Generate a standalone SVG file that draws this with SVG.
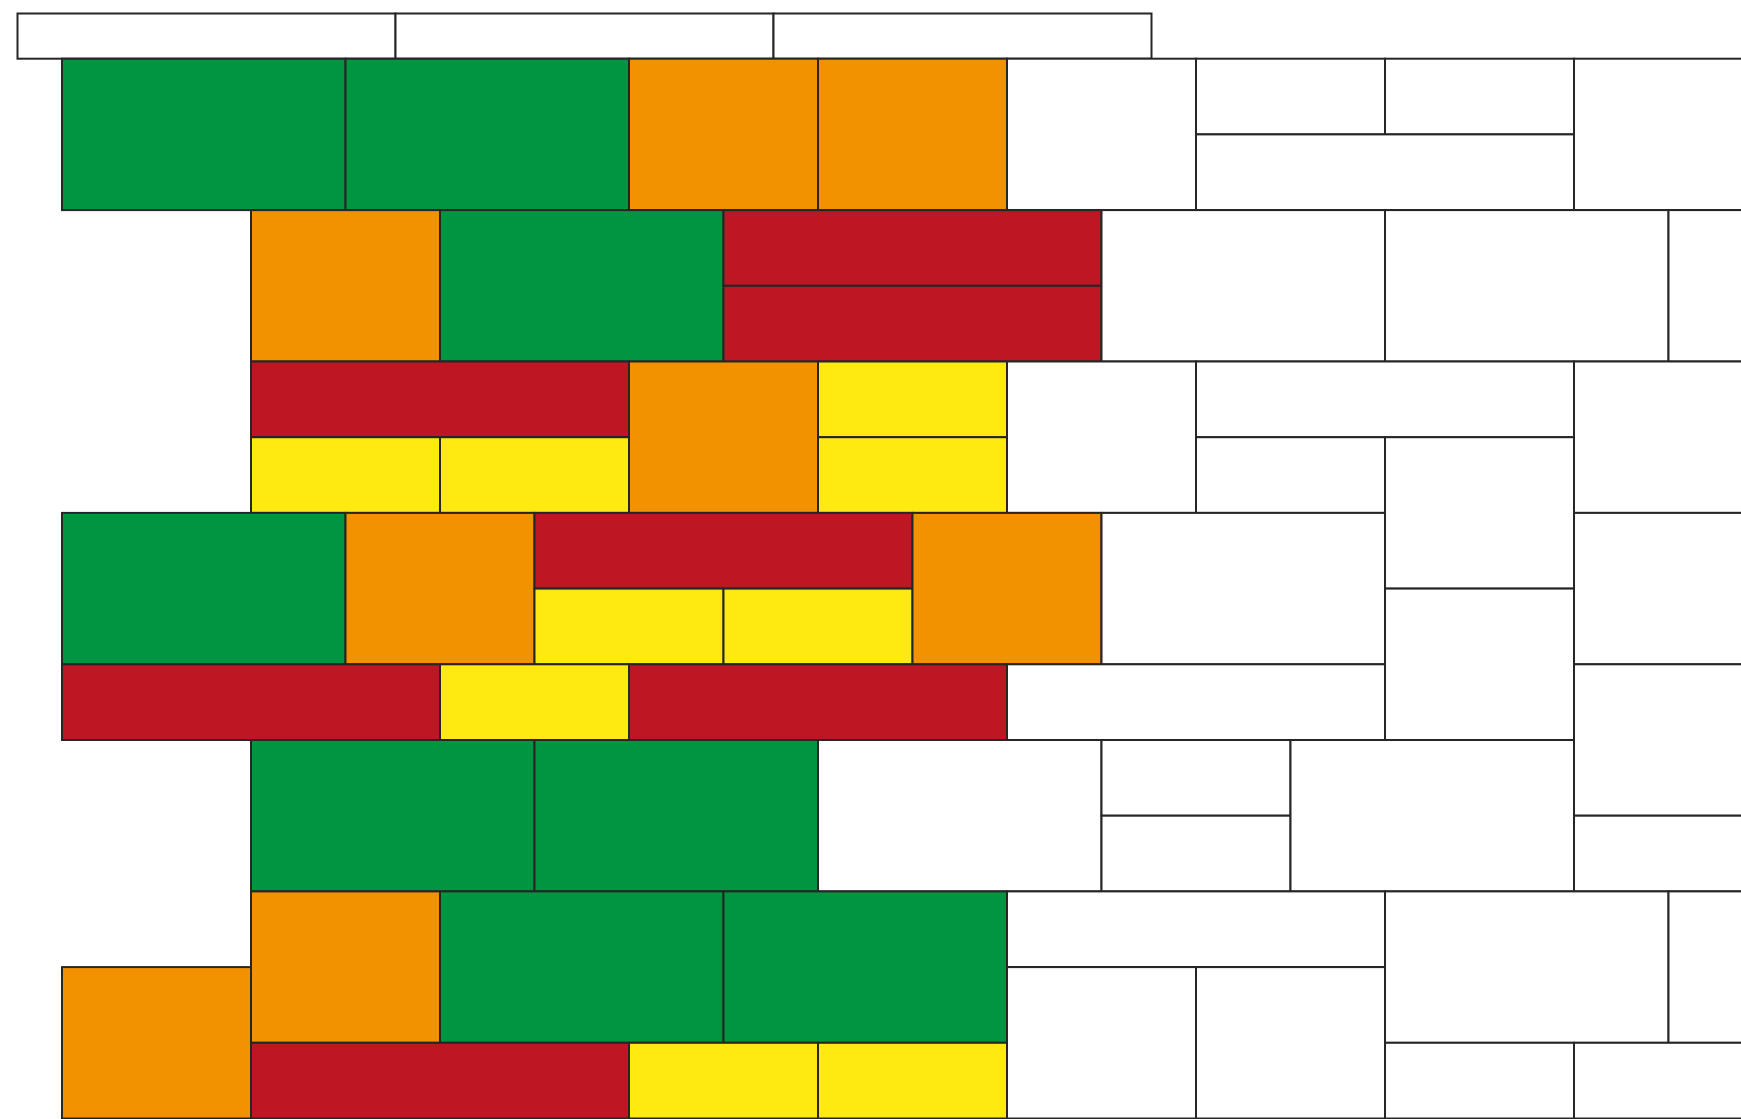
<svg xmlns="http://www.w3.org/2000/svg" width="1741" height="1119" viewBox="0 0 1741 1119">
<style>
rect{stroke:#262626;stroke-width:2}
.g{fill:#009540}
.o{fill:#F29200}
.r{fill:#BE1622}
.y{fill:#FEEA10}
.w{fill:#FFFFFF}
</style>
<rect width="1741" height="1119" fill="#FFFFFF" style="stroke:none"/>
<g id="top-strip">
<rect class="w" x="17.5" y="13.5" width="378" height="45.2"/>
<rect class="w" x="395.5" y="13.5" width="378" height="45.2"/>
<rect class="w" x="773.5" y="13.5" width="378" height="45.2"/>
</g>
<g id="band0">
<rect class="g" x="62" y="58.7" width="283.5" height="151.4"/>
<rect class="g" x="345.5" y="58.7" width="283.5" height="151.4"/>
<rect class="o" x="629" y="58.7" width="189" height="151.4"/>
<rect class="o" x="818" y="58.7" width="189" height="151.4"/>
<rect class="w" x="1007" y="58.7" width="189" height="151.4"/>
<rect class="w" x="1196" y="58.7" width="189" height="75.7"/>
<rect class="w" x="1385" y="58.7" width="189" height="75.7"/>
<rect class="w" x="1196" y="134.4" width="378" height="75.7"/>
<rect class="w" x="1574" y="58.7" width="283.5" height="151.4"/>
</g>
<g id="band1">
<rect class="o" x="251" y="210.1" width="189" height="151.4"/>
<rect class="g" x="440" y="210.1" width="283.5" height="151.4"/>
<rect class="r" x="723.5" y="210.1" width="378" height="75.7"/>
<rect class="r" x="723.5" y="285.8" width="378" height="75.7"/>
<rect class="w" x="1101.5" y="210.1" width="283.5" height="151.4"/>
<rect class="w" x="1385" y="210.1" width="283.5" height="151.4"/>
<rect class="w" x="1668.5" y="210.1" width="189" height="151.4"/>
</g>
<g id="band2">
<rect class="r" x="251" y="361.5" width="378" height="75.7"/>
<rect class="y" x="251" y="437.2" width="189" height="75.7"/>
<rect class="y" x="440" y="437.2" width="189" height="75.7"/>
<rect class="o" x="629" y="361.5" width="189" height="151.4"/>
<rect class="y" x="818" y="361.5" width="189" height="75.7"/>
<rect class="y" x="818" y="437.2" width="189" height="75.7"/>
<rect class="w" x="1007" y="361.5" width="189" height="151.4"/>
<rect class="w" x="1196" y="361.5" width="378" height="75.7"/>
<rect class="w" x="1196" y="437.2" width="189" height="75.7"/>
<rect class="w" x="1385" y="437.2" width="189" height="151.4"/>
<rect class="w" x="1574" y="361.5" width="283.5" height="151.4"/>
</g>
<g id="band3">
<rect class="g" x="62" y="512.9" width="283.5" height="151.4"/>
<rect class="o" x="345.5" y="512.9" width="189" height="151.4"/>
<rect class="r" x="534.5" y="512.9" width="378" height="75.7"/>
<rect class="y" x="534.5" y="588.6" width="189" height="75.7"/>
<rect class="y" x="723.5" y="588.6" width="189" height="75.7"/>
<rect class="o" x="912.5" y="512.9" width="189" height="151.4"/>
<rect class="w" x="1101.5" y="512.9" width="283.5" height="151.4"/>
<rect class="w" x="1385" y="588.6" width="189" height="151.4"/>
<rect class="w" x="1574" y="512.9" width="283.5" height="151.4"/>
</g>
<g id="band4">
<rect class="r" x="62" y="664.3" width="378" height="75.7"/>
<rect class="y" x="440" y="664.3" width="189" height="75.7"/>
<rect class="r" x="629" y="664.3" width="378" height="75.7"/>
<rect class="w" x="1007" y="664.3" width="378" height="75.7"/>
<rect class="w" x="1574" y="664.3" width="283.5" height="151.4"/>
</g>
<g id="band5">
<rect class="g" x="251" y="740" width="283.5" height="151.4"/>
<rect class="g" x="534.5" y="740" width="283.5" height="151.4"/>
<rect class="w" x="818" y="740" width="283.5" height="151.4"/>
<rect class="w" x="1101.5" y="740" width="189" height="75.7"/>
<rect class="w" x="1101.5" y="815.7" width="189" height="75.7"/>
<rect class="w" x="1290.5" y="740" width="283.5" height="151.4"/>
<rect class="w" x="1574" y="815.7" width="283.5" height="75.7"/>
</g>
<g id="band6">
<rect class="o" x="251" y="891.4" width="189" height="151.4"/>
<rect class="g" x="440" y="891.4" width="283.5" height="151.4"/>
<rect class="g" x="723.5" y="891.4" width="283.5" height="151.4"/>
<rect class="w" x="1007" y="891.4" width="378" height="75.7"/>
<rect class="w" x="1007" y="967.1" width="189" height="151.4"/>
<rect class="w" x="1196" y="967.1" width="189" height="151.4"/>
<rect class="w" x="1385" y="891.4" width="283.5" height="151.4"/>
<rect class="w" x="1668.5" y="891.4" width="189" height="151.4"/>
<rect class="o" x="62" y="967.1" width="189" height="151.4"/>
</g>
<g id="band7">
<rect class="r" x="251" y="1042.8" width="378" height="75.7"/>
<rect class="y" x="629" y="1042.8" width="189" height="75.7"/>
<rect class="y" x="818" y="1042.8" width="189" height="75.7"/>
<rect class="w" x="1385" y="1042.8" width="189" height="75.7"/>
<rect class="w" x="1574" y="1042.8" width="283.5" height="75.7"/>
</g>
</svg>
